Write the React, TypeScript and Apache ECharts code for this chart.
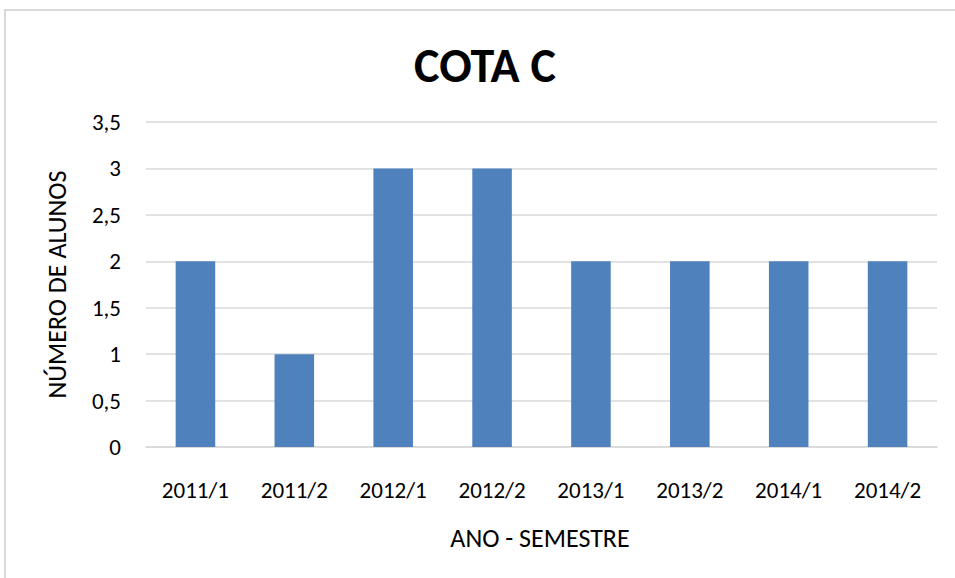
import React, { useEffect, useRef } from "react";
import * as echarts from "echarts";

const categories = ["2011/1", "2011/2", "2012/1", "2012/2", "2013/1", "2013/2", "2014/1", "2014/2"];
const values = [2, 1, 3, 3, 2, 2, 2, 2];
const titleText = "COTA C";
const xName = "ANO - SEMESTRE";
const yName = "NÚMERO DE ALUNOS";

export default function App() {
  const ref = useRef<HTMLDivElement>(null);
  useEffect(() => {
    if (!ref.current) return;
    const chart = echarts.init(ref.current, undefined, { renderer: "svg" });
    const font = "Carlito, Lato, 'Open Sans', sans-serif";
    chart.setOption({
      animation: false,
      backgroundColor: "#ffffff",
      textStyle: { fontFamily: font },
      graphic: [
        {
          type: "rect",
          shape: { x: 5, y: 10, width: 1000, height: 1000 },
          style: { fill: "none", stroke: "#d9d9d9", lineWidth: 2 },
          silent: true,
        },
        {
          type: "text",
          x: 485,
          y: 65,
          style: {
            text: titleText,
            font: `bold 48px ${font}`,
            fill: "#000",
            align: "center",
            verticalAlign: "middle",
          },
        },
        {
          type: "text",
          x: 540,
          y: 538,
          style: {
            text: xName,
            font: `26px ${font}`,
            fill: "#000",
            align: "center",
            verticalAlign: "middle",
          },
        },
      ],
      grid: { left: 146, right: 18, top: 122, bottom: 131, containLabel: false },
      xAxis: {
        type: "category",
        data: categories,
        axisLine: { show: true, lineStyle: { color: "#d9d9d9", width: 1.5 } },
        axisTick: { show: false },
        axisLabel: { color: "#000", fontSize: 23, margin: 31, fontFamily: font },
      },
      yAxis: {
        type: "value",
        min: 0,
        max: 3.5,
        interval: 0.5,
        name: yName,
        nameLocation: "middle",
        nameGap: 76,
        nameRotate: 90,
        nameTextStyle: { color: "#000", fontSize: 26, fontFamily: font },
        axisLine: { show: false },
        axisTick: { show: false },
        splitLine: { lineStyle: { color: "#d9d9d9", width: 1.5 } },
        axisLabel: {
          color: "#000",
          fontSize: 23,
          margin: 25,
          fontFamily: font,
          formatter: (v: number) => String(v).replace(".", ","),
        },
      },
      series: [
        {
          type: "bar",
          data: values,
          barWidth: "40%",
          itemStyle: { color: "#4f81bd" },
        },
      ],
    });
    return () => chart.dispose();
  }, []);
  return (
    <div
      ref={ref}
      style={{ position: "fixed", left: 0, top: 0, width: 955, height: 578 }}
    />
  );
}
